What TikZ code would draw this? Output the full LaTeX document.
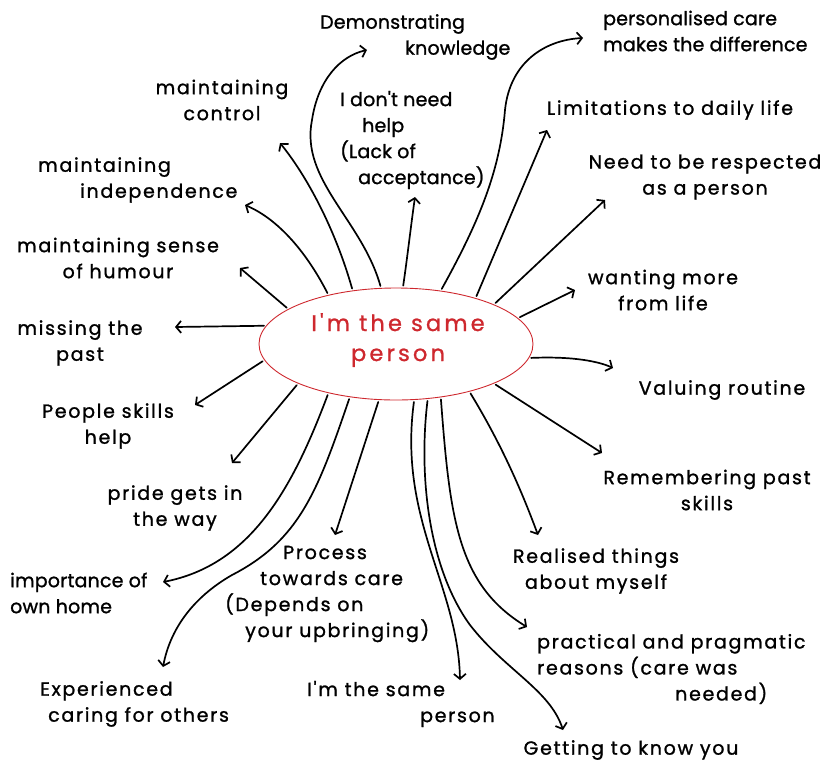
\documentclass[tikz,border=0pt]{standalone}
\usepackage{fontspec}
\setmainfont{Poppins}
\newfontfamily\hand{Poppins}[LetterSpace=9, FakeBold=1.2]
\newfontfamily\handnarrow{Poppins}[LetterSpace=1, FakeBold=1.2]
\newfontfamily\handcore{Poppins}[LetterSpace=14, FakeBold=1]
\usetikzlibrary{arrows.meta,shapes.geometric}
\definecolor{inkred}{RGB}{206,40,46}
\begin{document}
\begin{tikzpicture}[x=1pt,y=-1pt,
  txt/.style={font=\hand\fontsize{19}{26}\selectfont, inner sep=0pt},
  narrow/.style={font=\handnarrow\fontsize{19}{26}\selectfont},
  core/.style={ellipse, draw=inkred, line width=0.9pt, minimum width=274pt, minimum height=112pt, inner sep=0pt},
  link/.style={line width=1.7pt, -{Straight Barb[length=5pt,width=12pt]}, shorten <=2pt, line cap=round, line join=round},
]
\useasboundingbox (0,0) rectangle (835,764);

% central idea
\node[core] (core) at (396,344) {};
\node[txt, text=inkred, align=center, font=\handcore\fontsize{22.5}{30}\selectfont] (coretxt) at (398,340) {I'm the same\\person};

% themes around the centre
\node[txt, narrow, align=left, anchor=west] (demo) at (320,37) {Demonstrating\\\hspace*{85pt}knowledge};
\node[txt, align=center] (control) at (222,100) {maintaining\\control};
\node[txt, narrow, align=left, anchor=west] (dontneed) at (340,140) {I don't need\\\hspace*{22pt}help\\(Lack of\\\hspace*{18pt}acceptance)};
\node[txt, narrow, align=left, anchor=west] (personal) at (603,31) {personalised care\\makes the difference};
\node[txt] (limits) at (670,110) {Limitations to daily life};
\node[txt, align=center] (respect) at (705,177) {Need to be respected\\as a person};
\node[txt, align=center] (wanting) at (663,290) {wanting more\\from life};
\node[txt] (routine) at (722,390) {Valuing routine};
\node[txt, align=center] (skills) at (707,490) {Remembering past\\skills};
\node[txt, align=center] (realised) at (596,571) {Realised things\\about myself};
\node[txt, align=left, anchor=west] (practical) at (537,669) {practical and pragmatic\\reasons (care was\\\hspace*{138pt}needed)};
\node[txt] (getting) at (631,750) {Getting to know you};
\node[txt, align=left, anchor=west] (same) at (307,704) {I'm the same\\\hspace*{113pt}person};
\node[txt, align=left, anchor=west] (experienced) at (40,704) {Experienced\\\hspace*{8pt}caring for others};
\node[txt, narrow, align=left, anchor=west] (home) at (10,593) {importance of\\own home};
\node[txt, align=left, anchor=west] (process) at (225,594) {\hspace*{58pt}Process\\\hspace*{35pt}towards care\\(Depends on\\\hspace*{20pt}your upbringing)};
\node[txt, align=center] (pride) at (175,508) {pride gets in\\the way};
\node[txt, align=center] (people) at (108,426) {People skills\\help};
\node[txt, align=center] (missing) at (80,343) {missing the\\past};
\node[txt, align=center] (humour) at (118,258) {maintaining sense\\of humour};
\node[txt, align=left, anchor=west] (independence) at (38,180) {maintaining\\\hspace*{42pt}independence};

% arrow tips
\coordinate (tHumour) at (240,268);
\coordinate (tIndep) at (245,205);
\coordinate (tControl) at (280,143);
\coordinate (tDemo) at (367,50);
\coordinate (tDontneed) at (415,197);
\coordinate (tPersonal) at (583,38);
\coordinate (tLimits) at (547,130);
\coordinate (tRespect) at (605,200);
\coordinate (tWanting) at (575,290);
\coordinate (tRoutine) at (613,368);
\coordinate (tSkills) at (602,453);
\coordinate (tRealised) at (538,535);
\coordinate (tPractical) at (527,627);
\coordinate (tGetting) at (563,730);
\coordinate (tSame) at (460,680);
\coordinate (tProcess) at (335,535);
\coordinate (tExperienced) at (163,667);
\coordinate (tHome) at (163,582);
\coordinate (tPride) at (232,463);
\coordinate (tPeople) at (195,405);
\coordinate (tMissing) at (175,327);

% connectors
\draw[link] (core.162) -- (tHumour);
\draw[link] (core.144) .. controls (308,255) and (280,220) .. (tIndep);
\draw[link] (core.129) .. controls (337,235) and (310,180) .. (tControl);
\draw[link] (core.105) .. controls (362,220) and (300,180) .. (312,120) .. controls (318,80) and (340,56) .. (tDemo);
\draw[link] (core.83) .. controls (407,260) and (411,225) .. (tDontneed);
\draw[link] (core.50) .. controls (480,220) and (500,170) .. (505,110) .. controls (510,62) and (545,40) .. (tPersonal);
\draw[link] (core.30) -- (tLimits);
\draw[link] (core.22) -- (tRespect);
\draw[link] (core.12) -- (tWanting);
\draw[link] (core.-6) .. controls (575,356) and (600,362) .. (tRoutine);
\draw[link] (core.-22) -- (tSkills);
\draw[link] (core.-33) .. controls (505,450) and (525,500) .. (tRealised);
\draw[link] (core.-50) .. controls (450,520) and (458,585) .. (tPractical);
\draw[link] (core.-60) .. controls (418,480) and (430,570) .. (470,625) .. controls (505,670) and (550,690) .. (tGetting);
\draw[link] (core.-72) .. controls (398,520) and (458,585) .. (tSame);
\draw[link] (core.253) -- (tProcess);
\draw[link] (core.229) .. controls (318,490) and (300,540) .. (232,575) .. controls (192,598) and (170,630) .. (tExperienced);
\draw[link] (core.216) .. controls (292,490) and (250,565) .. (tHome);
\draw[link] (core.202) -- (tPride);
\draw[link] (core.187) -- (tPeople);
\draw[link] (core.172) -- (tMissing);
\end{tikzpicture}
\end{document}
